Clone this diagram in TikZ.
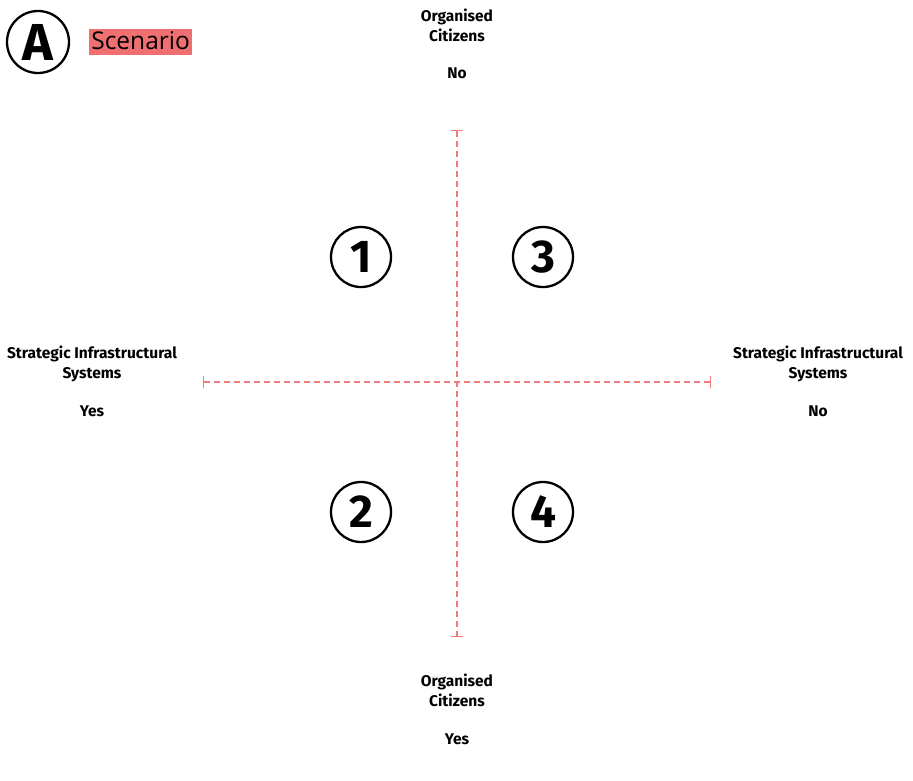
\documentclass[tikz,border=0pt]{standalone}
\usepackage{fontspec}
\setmainfont{Fira Sans}
\newfontfamily\titlefont{Open Sans}
\usetikzlibrary{arrows.meta,positioning}
\definecolor{axisred}{HTML}{EE7A7C}
\definecolor{tagred}{HTML}{F07072}

\begin{document}
\begin{tikzpicture}[x=1pt, y=-1pt, node distance=6pt and 8pt,
  every node/.style={font=\fontsize{15.5}{19.5}\selectfont\bfseries, inner sep=0pt},
  quad/.style={draw, circle, line width=2.3pt, minimum size=60pt, font=\fontsize{46}{46}\selectfont\bfseries},
  axis/.style={axisred, line width=1.3pt, dash pattern=on 6pt off 4pt, {Bar[width=12pt,line width=1.3pt]}-{Bar[width=12pt,line width=1.3pt]}},
  side/.style={align=center, text depth=0pt}]
\useasboundingbox (0,0) rectangle (913,780);
% header
\node[quad, minimum size=62pt, font=\fontsize{52}{52}\selectfont\bfseries] (badge) at (38,42) {A};
\node[fill=tagred, inner xsep=2pt, inner ysep=3pt, right=19pt of badge, font=\titlefont\fontsize{24.5}{24.5}\selectfont, text depth=2pt] (tag) {Scenario};
% axes
\coordinate (ntop) at (457,130);
\coordinate (nbot) at (457,637);
\coordinate (wl) at (203,382);
\coordinate (wr) at (711,382);
\draw[axis] (ntop) -- (nbot);
\draw[axis] (wl) -- (wr);
% quadrants
\node[quad] (q1) at (361,257) {1};
\node[quad] (q3) at (543,257) {3};
\node[quad] (q2) at (361,512) {2};
\node[quad] (q4) at (543,512) {4};
% labels
\node[side] (oc1) at (457,25) {Organised\\Citizens};
\node (oc1v) at (457,73) {No};
\node[side] (oc2) at (457,690) {Organised\\Citizens};
\node (oc2v) at (457,739) {Yes};
\node[side] (sis1) at (92,362) {Strategic Infrastructural\\Systems};
\node (sis1v) at (92,411) {Yes};
\node[side] (sis2) at (818,362) {Strategic Infrastructural\\Systems};
\node (sis2v) at (818,411) {No};
\end{tikzpicture}
\end{document}
